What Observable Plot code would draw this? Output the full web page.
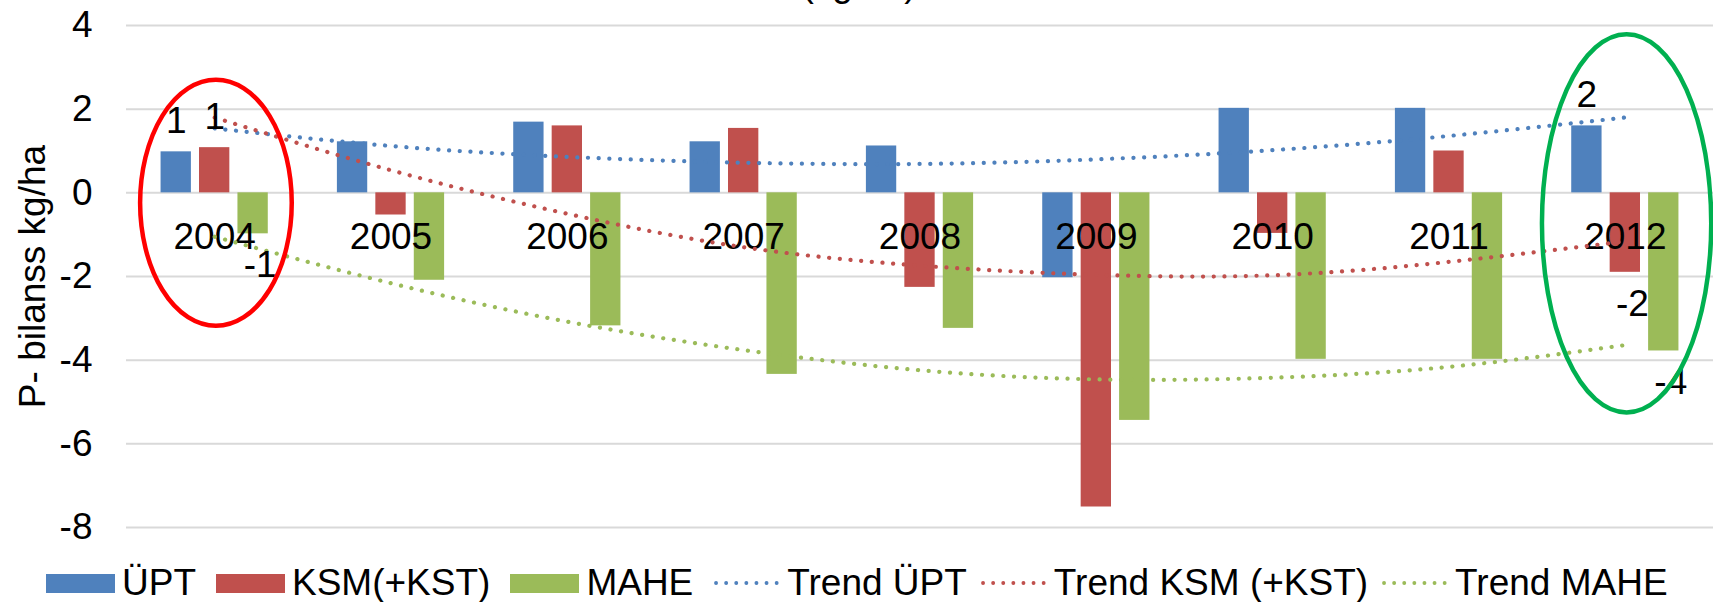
<!DOCTYPE html>
<html>
<head>
<meta charset="utf-8">
<script src="https://cdn.jsdelivr.net/npm/d3@7"></script>
<script src="https://cdn.jsdelivr.net/npm/@observablehq/plot@0.6"></script>
<style>
  body { margin: 0; background: #fff; font-family: "Liberation Sans", Arial, sans-serif; }
  #wrap { position: relative; width: 1713px; height: 602px; overflow: hidden; }
  #legend { position: absolute; left: 46px; top: 564px; height: 38px; display: flex; align-items: center;
            font-size: 37px; line-height: 38px; color: #000; white-space: nowrap; }
  .item { display: flex; align-items: center; margin-right: 20px; }
  .sw { display: inline-block; width: 69px; height: 19px; margin-right: 7px; }
  .tr { display: inline-block; width: 66px; height: 10px; margin-right: 8px; }
</style>
</head>
<body>
<div id="wrap"><div id="chart"></div><div id="legend"></div></div>
<script>
// ---- data ----
const years = [2004, 2005, 2006, 2007, 2008, 2009, 2010, 2011, 2012];
const upt  = [0.98, 1.22, 1.69, 1.22, 1.12, -2.03, 2.02, 2.02, 1.60];
const ksm  = [1.08, -0.53, 1.60, 1.54, -2.26, -7.51, -0.97, 1.00, -1.90];
const mahe = [-0.98, -2.09, -3.18, -4.34, -3.24, -5.44, -3.98, -3.98, -3.78];
const trendUpt  = [1.54, 1.12, 0.86, 0.72, 0.69, 0.80, 1.02, 1.36, 1.80];
const trendKsm  = [1.80, 0.54, -0.50, -1.30, -1.74, -1.96, -1.97, -1.65, -1.16];
const trendMahe = [-1.05, -2.16, -3.08, -3.76, -4.24, -4.46, -4.42, -4.16, -3.64];
const seriesNames = ["ÜPT", "KSM(+KST)", "MAHE"];
const trendNames = ["Trend ÜPT", "Trend KSM (+KST)", "Trend MAHE"];
const seriesColors = ["#4F81BD", "#C0504D", "#9BBB59"];
const yTicks = [-8, -6, -4, -2, 0, 2, 4];
const labeledYears = [2004, 2012];
const titleText = "(kg/ha)";
const yLabel = "P- bilanss kg/ha";
// annotation ellipses (hand-drawn highlights)
const ellipseYear = [2004.01, 2012.01];
const ellipseVal = [-0.25, -0.74];
const ellipseRxYears = [0.43, 0.48];
const ellipseRyVals = [2.94, 4.52];
const ellipseColors = ["#FF0000", "#00B050"];

// ---- tables ----
const seriesValues = [upt, ksm, mahe];
const trendValues = [trendUpt, trendKsm, trendMahe];
const step = 0.218, half = 0.086;
const bars = [];
seriesValues.forEach((vals, k) => vals.forEach((v, i) => bars.push({year: years[i], k, v})));
const trends = [];
trendValues.forEach((vals, k) => vals.forEach((v, i) => trends.push({year: years[i], k, v})));
const labels = bars.filter(d => labeledYears.includes(d.year));
const fmt = v => String(Math.round(v));
const xc = d => d.year + (d.k - 1) * step;

const ellipseMark = (index, scales) => {
  const g = d3.create("svg:g");
  g.selectAll("ellipse").data(d3.range(ellipseYear.length)).join("ellipse")
    .attr("cx", i => scales.x(ellipseYear[i]))
    .attr("cy", i => scales.y(ellipseVal[i]))
    .attr("rx", i => scales.x(ellipseYear[i] + ellipseRxYears[i]) - scales.x(ellipseYear[i]))
    .attr("ry", i => scales.y(ellipseVal[i] - ellipseRyVals[i]) - scales.y(ellipseVal[i]))
    .attr("fill", "none")
    .attr("stroke", i => ellipseColors[i])
    .attr("stroke-width", 4.5);
  return g.node();
};

const chart = Plot.plot({
  width: 1713,
  height: 556,
  marginTop: 25,
  marginBottom: 29,
  marginLeft: 126,
  marginRight: 0,
  style: {fontFamily: "'Liberation Sans', Arial, sans-serif", fontSize: "37px", color: "#000", background: "#fff"},
  x: {domain: [2003.5, 2012.5], axis: null},
  y: {domain: [-8, 4], axis: null},
  marks: [
    Plot.gridY(yTicks, {stroke: "#d9d9d9", strokeOpacity: 1, strokeWidth: 2}),
    Plot.axisY(yTicks, {tickSize: 0, tickPadding: 34, tickFormat: d => String(d), label: null}),
    Plot.rectY(bars, {
      x1: d => xc(d) - half, x2: d => xc(d) + half, y1: 0, y2: "v",
      fill: d => seriesColors[d.k]
    }),
    Plot.text(years, {x: d => d, y: 0, text: d => String(d), dy: 44, lineAnchor: "middle", fill: "#000"}),
    ...trendValues.map((vals, k) => Plot.line(trends.filter(d => d.k === k), {
      x: "year", y: "v", curve: "natural",
      stroke: seriesColors[k], strokeWidth: 4.2, strokeDasharray: "0.1 10.6", strokeLinecap: "round"
    })),
    Plot.text(labels.filter(d => d.v >= 0), {x: xc, y: "v", text: d => fmt(d.v), lineAnchor: "bottom", dy: -19, fill: "#000"}),
    Plot.text(labels.filter(d => d.v < 0), {x: d => xc(d) + 0.04, y: "v", text: d => fmt(d.v), lineAnchor: "top", dy: 17, fill: "#000"}),
    Plot.text([titleText], {text: d => d, frameAnchor: "top", dx: -61, dy: -30, lineAnchor: "bottom", fill: "#000"}),
    Plot.text([yLabel], {text: d => d, frameAnchor: "left", textAnchor: "middle", rotate: -90, dx: -93, fill: "#000"}),
    ellipseMark
  ]
});
document.getElementById("chart").appendChild(chart);

// ---- legend ----
const legend = d3.select("#legend");
seriesNames.forEach((name, k) => {
  const it = legend.append("div").attr("class", "item");
  it.append("span").attr("class", "sw").style("background", seriesColors[k]);
  it.append("span").text(name);
});
trendNames.forEach((name, k) => {
  const it = legend.append("div").attr("class", "item").style("margin-right", "13px");
  const s = it.append("svg").attr("class", "tr").attr("width", 66).attr("height", 10);
  s.append("line").attr("x1", 3).attr("x2", 64).attr("y1", 5).attr("y2", 5)
    .attr("stroke", seriesColors[k]).attr("stroke-width", 3.8)
    .attr("stroke-dasharray", "0.1 10").attr("stroke-linecap", "round");
  it.append("span").text(name);
});
</script>
</body>
</html>
